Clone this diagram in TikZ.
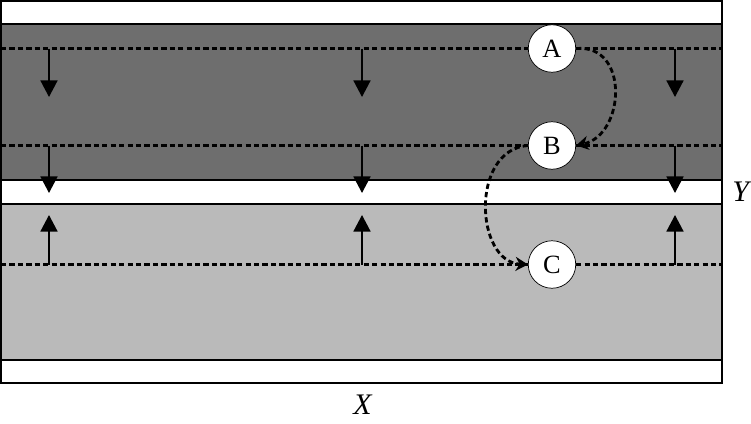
\documentclass[tikz,border=0pt]{standalone}
\usepackage{fontspec}
\setmainfont{Liberation Serif}
\usetikzlibrary{arrows.meta,positioning}
\definecolor{darkband}{gray}{0.43}
\definecolor{lightband}{gray}{0.73}

\begin{document}
\begin{tikzpicture}[x=0.02cm,y=-0.02cm,
  state/.style={circle,draw,fill=white,minimum size=0.95cm,inner sep=0pt,font=\fontsize{15}{18}\selectfont},
  level/.style={line width=1.9pt,dash pattern=on 3pt off 1.8pt},
  push/.style={line width=1.1pt,-{Triangle[width=9.6pt,length=9.4pt]}},
  hop/.style={line width=1.6pt,dash pattern=on 3pt off 1.8pt,-{Stealth[width=8pt,length=7pt]}}]
 \useasboundingbox (0,0) rectangle (751,423);

 \draw[line width=0.8pt,fill=white] (1,1) rectangle (722,383);
 \draw[line width=0.8pt,fill=darkband] (1,24) rectangle (722,180);
 \draw[line width=0.8pt,fill=lightband] (1,204) rectangle (722,360);

 \coordinate (la) at (1,48.5);   \coordinate (ra) at (722,48.5);
 \coordinate (lb) at (1,145.5);  \coordinate (rb) at (722,145.5);
 \coordinate (lc) at (1,264.5);  \coordinate (rc) at (722,264.5);

 \node[state] (A) at (552,48.5) {A};
 \node[state] (B) at (552,145.5) {B};
 \node[state] (C) at (552,264.5) {C};

 \draw[level] (la) -- (A);  \draw[level] (A) -- (ra);
 \draw[level] (lb) -- (B);  \draw[level] (B) -- (rb);
 \draw[level] (lc) -- (C);  \draw[level] (C) -- (rc);

 \foreach \x in {49,362,675} {
  \coordinate (t\x) at (\x,97);
  \coordinate (m\x) at (\x,193);
  \coordinate (u\x) at (\x,215);
  \draw[push] (\x,48.5) -- (t\x);
  \draw[push] (\x,145.5) -- (m\x);
  \draw[push] (\x,264.5) -- (u\x);
 }

 \draw[hop] (A.east) .. controls (630,44) and (625,135) .. (B.east);
 \draw[hop] (B.west) .. controls (470,150) and (475,262) .. (C.west);

 \node[font=\fontsize{17}{20}\selectfont,inner sep=1pt] (ylab) at (742,192) {\textit{Y}};
 \node[font=\fontsize{17}{20}\selectfont,inner sep=1pt] (xlab) at (363,405) {\textit{X}};
\end{tikzpicture}
\end{document}
